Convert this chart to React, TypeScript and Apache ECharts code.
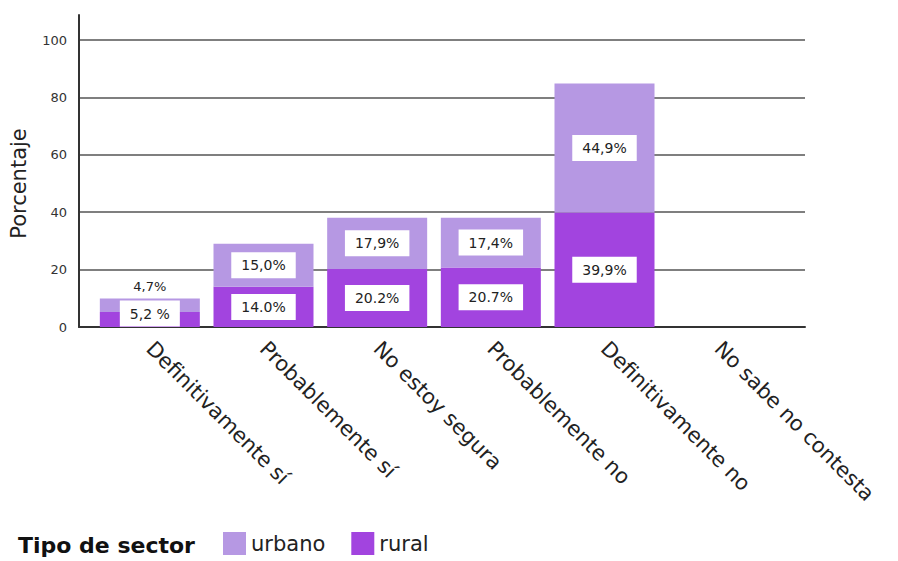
import React, { useEffect, useRef } from "react";
import * as echarts from "echarts";

const categories = [
  "Definitivamente sí",
  "Probablemente sí",
  "No estoy segura",
  "Probablemente no",
  "Definitivamente no",
  "No sabe no contesta",
];
const urbanoValues = [4.7, 15.0, 17.9, 17.4, 44.9, 0];
const ruralValues = [5.2, 14.0, 20.2, 20.7, 39.9, 0];
const urbanoLabels = ["4,7%", "15,0%", "17,9%", "17,4%", "44,9%", ""];
const ruralLabels = ["5,2 %", "14.0%", "20.2%", "20.7%", "39,9%", ""];
const yTicks = [0, 20, 40, 60, 80, 100];

const FONT = "'DejaVu Sans', 'Noto Sans', sans-serif";
const URBANO = "#b698e3";
const RURAL = "#a244df";

const boxLabel = {
  show: true,
  position: "inside",
  backgroundColor: "#ffffff",
  color: "#222",
  fontFamily: FONT,
  fontSize: 14,
  padding: [6, 10, 6, 10],
};

export default function App() {
  const ref = useRef<HTMLDivElement>(null);
  useEffect(() => {
    if (!ref.current) return;
    const chart = echarts.init(ref.current, null, { renderer: "svg" });
    const urbanoData = urbanoValues.map((v, i) => {
      const item: any = { value: v, label: { formatter: urbanoLabels[i] } };
      if (v < 8 && v > 0) {
        item.label = {
          formatter: urbanoLabels[i],
          position: "top",
          distance: 6,
          backgroundColor: "transparent",
          padding: 0,
          fontSize: 13,
        };
      }
      if (v === 0) item.label = { show: false };
      return item;
    });
    const ruralData = ruralValues.map((v, i) => {
      const item: any = { value: v, label: { formatter: ruralLabels[i] } };
      if (v < 8 && v > 0) {
        item.label = { formatter: ruralLabels[i], offset: [0, -6] };
      }
      if (v === 0) item.label = { show: false };
      return item;
    });
    chart.setOption({
      animation: false,
      backgroundColor: "#ffffff",
      textStyle: { fontFamily: FONT },
      title: {
        text: "Tipo de sector",
        left: 13,
        top: 529,
        textStyle: { fontFamily: FONT, fontSize: 22, fontWeight: "bold", color: "#111" },
      },
      legend: {
        data: ["urbano", "rural"],
        left: 218,
        top: 527,
        itemWidth: 23,
        itemHeight: 23,
        itemGap: 26,
        icon: "rect",
        textStyle: { fontFamily: FONT, fontSize: 21, color: "#222" },
      },
      grid: [
        { left: 79, right: 93, top: 15, bottom: 234, containLabel: false },
        { left: 79, right: 93, top: 40, bottom: 234, containLabel: false },
        { left: 93, right: 123, top: 40, bottom: 234, containLabel: false },
      ],
      xAxis: [
        { gridIndex: 0, type: "value", show: false },
        {
          gridIndex: 1,
          type: "value",
          min: 0,
          max: 1,
          axisLine: { show: true, onZero: false, lineStyle: { color: "#333", width: 2 } },
          axisTick: { show: false },
          axisLabel: { show: false },
          splitLine: { show: false },
        },
        {
          gridIndex: 2,
          type: "category",
          data: categories,
          axisLine: { show: false },
          axisTick: { show: false },
          axisLabel: {
            rotate: -45,
            margin: 18,
            fontFamily: FONT,
            fontSize: 21,
            color: "#222",
            interval: 0,
          },
        },
      ],
      yAxis: [
        {
          gridIndex: 0,
          type: "value",
          min: 0,
          max: 108.7,
          axisLine: { show: true, lineStyle: { color: "#333", width: 2 } },
          axisTick: { show: false },
          axisLabel: { show: false },
          splitLine: { show: false },
        },
        {
          gridIndex: 1,
          type: "value",
          min: yTicks[0],
          max: yTicks[yTicks.length - 1],
          interval: 20,
          name: "Porcentaje",
          nameLocation: "middle",
          nameGap: 50,
          nameTextStyle: { fontFamily: FONT, fontSize: 21, color: "#222" },
          axisLine: { show: false },
          axisTick: { show: false },
          axisLabel: { fontFamily: FONT, fontSize: 13, color: "#333", margin: 12 },
          splitLine: { show: true, lineStyle: { color: "#555", width: 1.5 } },
        },
        {
          gridIndex: 2,
          type: "value",
          min: 0,
          max: 100,
          show: false,
        },
      ],
      series: [
        {
          name: "rural",
          type: "bar",
          stack: "total",
          xAxisIndex: 2,
          yAxisIndex: 2,
          barWidth: 100,
          itemStyle: { color: RURAL },
          label: boxLabel,
          data: ruralData,
          z: 3,
        },
        {
          name: "urbano",
          type: "bar",
          stack: "total",
          xAxisIndex: 2,
          yAxisIndex: 2,
          barWidth: 100,
          itemStyle: { color: URBANO },
          label: boxLabel,
          data: urbanoData,
          z: 3,
        },
      ],
    });
    return () => chart.dispose();
  }, []);
  return <div ref={ref} style={{ width: 898, height: 561, position: "absolute", left: 0, top: 0 }} />;
}
